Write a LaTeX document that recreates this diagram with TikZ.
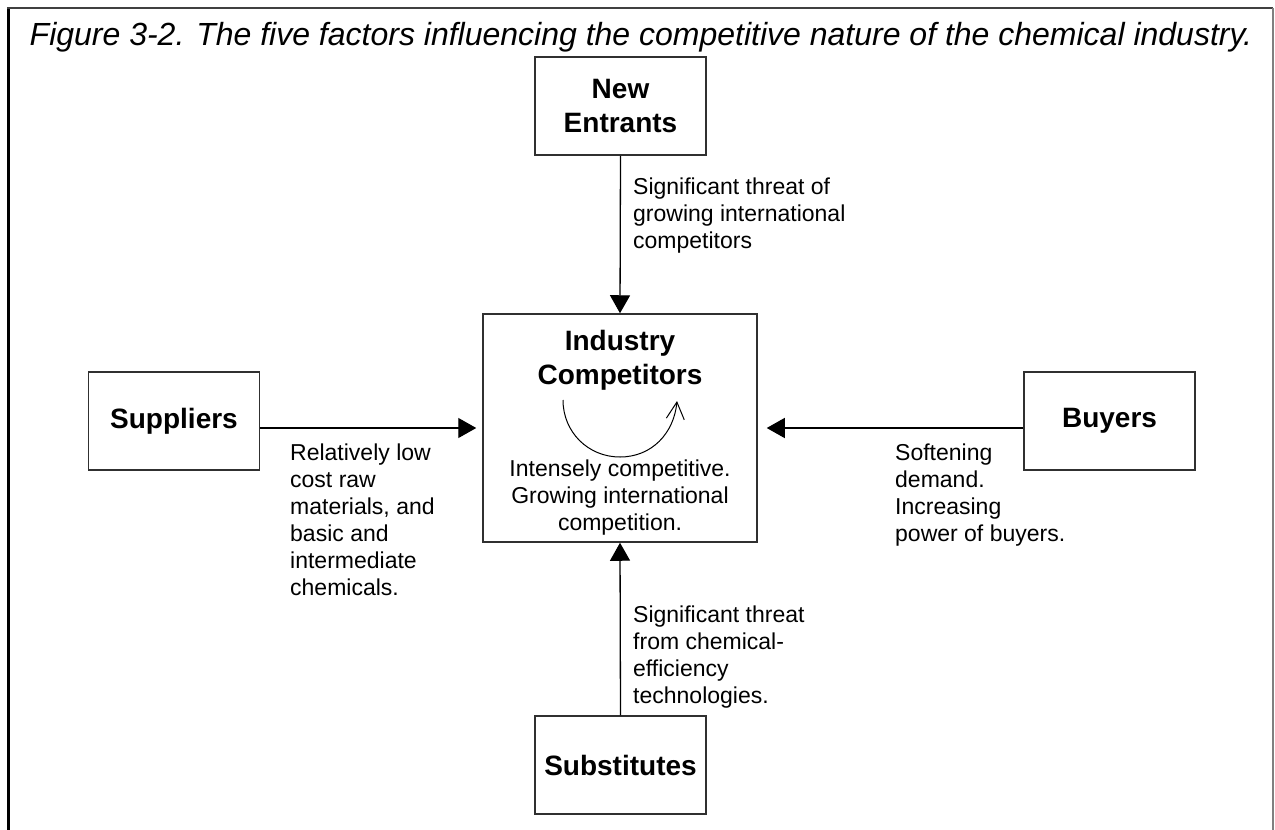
\documentclass[tikz,border=0pt]{standalone}
\usepackage{fontspec}
\setmainfont{Liberation Sans}
\usetikzlibrary{arrows.meta}
\definecolor{boxline}{HTML}{303030}
\definecolor{frametop}{HTML}{404040}
\definecolor{frameright}{HTML}{808080}
\begin{document}
\begin{tikzpicture}[x=1pt,y=-1pt,
  force/.style={draw=boxline, line width=1.5pt, minimum width=171pt, minimum height=98pt,
    inner sep=0pt, align=center, font=\fontsize{28}{34}\selectfont\bfseries},
  conn/.style={line width=1.3pt, -{Triangle[length=18pt,width=20pt]}},
  note/.style={anchor=north west, inner sep=0pt, align=left, font=\fontsize{23}{27}\selectfont},
  centertext/.style={anchor=north, inner sep=0pt, align=center},
]
\useasboundingbox (0,0) rectangle (1275,830);
\fill[white] (0,0) rectangle (1275,830);

% open frame around the figure
\draw[line width=3pt] (8,830) -- (8,8);
\draw[frametop, line width=2pt] (7,8) -- (1273,8);
\draw[frameright, line width=1.5pt] (1273,8) -- (1273,830);

% caption
\node[anchor=base, inner sep=0pt, font=\fontsize{32}{38}\selectfont\itshape] (caption) at (641,45)
  {Figure 3-2. The five factors influencing the competitive nature of the chemical industry.};

% the five forces
\node[force] (ne)  at (620.5,106) {New\\Entrants};
\node[force] (sub) at (620.5,765) {Substitutes};
\node[force] (sup) at (174,421)   {Suppliers};
\node[force] (buy) at (1109.5,421) {Buyers};
\node[draw=boxline, line width=1.5pt, minimum width=274pt, minimum height=228pt, inner sep=0pt] (ic) at (620,428) {};

% contents of the central box
\node[centertext, font=\fontsize{28}{34}\selectfont\bfseries] (ictitle) at (620,329.6) {Industry\\Competitors};
\node[centertext, font=\fontsize{23}{27}\selectfont] (icnote) at (620,460)
  {Intensely competitive.\\Growing international\\competition.};
\coordinate (rivalstart) at (563,400);
\coordinate (rivallow) at (620,457);
\coordinate (rivalend) at (677,401);
\draw[line width=1pt, -{Straight Barb[length=17pt,width=18pt]}]
  (rivalstart) .. controls (563,432) and (588,457) .. (rivallow)
  .. controls (652,457) and (674,433) .. (rivalend);

% connectors
\draw[conn] (ne.south) -- (ic.north);
\draw[conn] (sub.north) -- (ic.south);
\draw[conn, shorten >=6pt] (sup.east |- ic.center) -- (ic.west);
\draw[conn, shorten >=9pt] (buy.west |- ic.center) -- (ic.east);

% connector notes
\node[note] (nenote)  at (633,178) {Significant threat of\\growing international\\competitors};
\node[note] (supnote) at (290,444) {Relatively low\\cost raw\\materials, and\\basic and\\intermediate\\chemicals.};
\node[note] (buynote) at (895,444) {Softening\\demand.\\Increasing\\power of buyers.};
\node[note] (subnote) at (633,606) {Significant threat\\from chemical-\\efficiency\\technologies.};
\end{tikzpicture}
\end{document}
